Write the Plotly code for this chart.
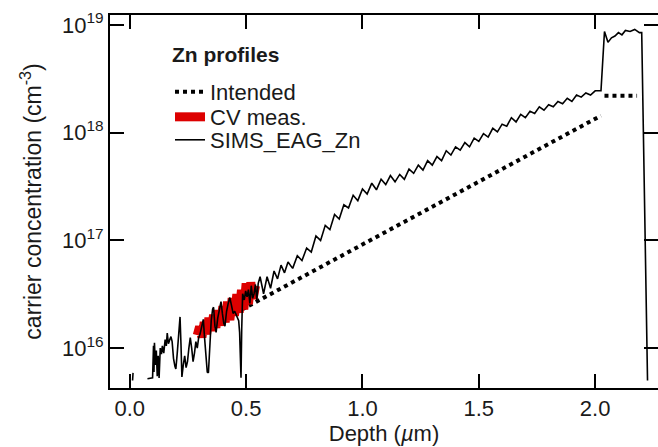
import plotly.graph_objects as go

# ---------------- data ----------------
intended_depth = [0.30, 2.025, None, 2.04, 2.18]
intended_conc = [1.4e16, 1.44e18, None, 2.2e18, 2.2e18]

cv_depth = [0.29, 0.30, 0.31, 0.32, 0.33, 0.34, 0.35, 0.36, 0.37, 0.38, 0.39, 0.40, 0.41,
            0.42, 0.43, 0.44, 0.45, 0.46, 0.47, 0.48, 0.49, 0.50, 0.51, 0.52, 0.53, 0.54]
cv_conc = [1.32e16, 1.58e16, 1.26e16, 1.74e16, 1.35e16, 1.91e16, 1.45e16, 2.04e16, 1.55e16,
           2.24e16, 1.62e16, 2.45e16, 1.74e16, 2.7e16, 1.82e16, 2.9e16, 2.0e16, 3.16e16,
           2.14e16, 3.47e16, 2.29e16, 4.0e16, 2.57e16, 4.07e16, 2.88e16, 3.8e16]

sims_depth = [0.012, 0.014, None,
              0.076, 0.098, 0.102, 0.104, 0.106, 0.110, 0.114, 0.118, 0.122, 0.126, 0.131,
              0.136, 0.140, 0.146, 0.152, 0.157, 0.161, 0.166, 0.172, 0.177, 0.182, 0.188,
              0.194, 0.198, 0.204, 0.210, 0.216, 0.220, 0.224, 0.230, 0.236, 0.242, 0.248,
              0.254, 0.260, 0.266, 0.272, 0.278, 0.284, 0.290, 0.296, 0.302, 0.310, 0.316,
              0.322, 0.328, 0.333, 0.338, 0.344, 0.350, 0.356, 0.360, 0.366, 0.371, 0.378,
              0.385, 0.392, 0.398, 0.404, 0.409, 0.416, 0.423, 0.430, 0.437, 0.444, 0.451,
              0.458, 0.464, 0.468, 0.472, 0.476, 0.478, 0.481, 0.485, 0.492, 0.498, 0.504,
              0.510, 0.516, 0.522, 0.528, 0.534, 0.540, 0.546, 0.552,
              0.560, 0.575, 0.590, 0.605, 0.620, 0.635, 0.650, 0.665, 0.680, 0.700, 0.720,
              0.740, 0.760, 0.780, 0.800, 0.820, 0.840, 0.860, 0.880, 0.900, 0.920, 0.940,
              0.960, 0.980, 1.000, 1.020, 1.040, 1.060, 1.080, 1.100, 1.120, 1.140, 1.160,
              1.180, 1.200, 1.220, 1.240, 1.260, 1.280, 1.300, 1.320, 1.340, 1.360, 1.380,
              1.400, 1.420, 1.440, 1.460, 1.480, 1.500, 1.520, 1.540, 1.560, 1.580, 1.600,
              1.620, 1.640, 1.660, 1.680, 1.700, 1.720, 1.740, 1.760, 1.780, 1.800, 1.820,
              1.840, 1.860, 1.880, 1.900, 1.920, 1.940, 1.960, 1.980, 2.000, 2.025,
              2.040, 2.055, 2.070, 2.085, 2.100, 2.115, 2.130, 2.150, 2.170, 2.190, 2.200,
              2.225]
sims_conc = [5.0e15, 5.9e15, None,
             5.2e15, 5.3e15, 1.05e16, 6.0e15, 1.12e16, 7.0e15, 9.5e15, 5.5e15, 8.5e15, 5.3e15,
             1.0e16, 8.8e15, 1.05e16, 9.0e15, 1.2e16, 1.05e16, 1.38e16, 1.1e16, 1.2e16,
             1.28e16, 1.15e16, 8.0e15, 6.8e15, 6.4e15, 9.0e15, 1.4e16, 1.95e16, 1.1e16,
             5.4e15, 7.0e15, 8.5e15, 6.6e15, 7.5e15, 1.0e16, 1.25e16, 1.0e16, 7.5e15, 9.0e15,
             1.15e16, 1.0e16, 1.25e16, 1.35e16, 1.6e16, 1.85e16, 1.2e16, 8.0e15, 6.0e15,
             5.9e15, 1.1e16, 1.8e16, 2.3e16, 2.4e16, 1.6e16, 1.4e16, 1.9e16, 2.3e16, 2.7e16,
             2.1e16, 1.7e16, 1.6e16, 2.2e16, 2.6e16, 2.95e16, 2.5e16, 2.1e16, 2.2e16, 2.0e16,
             1.9e16, 1.8e16, 1.4e16, 5.8e15, 5.3e15, 1.5e16, 3.2e16, 2.8e16, 3.4e16, 3.0e16,
             3.5e16, 2.6e16, 3.8e16, 2.9e16, 3.2e16, 3.9e16, 2.8e16, 4.0e16,
             4.6e16, 3.2e16, 4.6e16, 3.6e16, 5.2e16, 4.4e16, 5.9e16, 5.0e16, 6.3e16, 5.5e16,
             7.2e16, 6.5e16, 8.5e16, 7.8e16, 1.1e17, 1.0e17, 1.38e17, 1.26e17, 1.74e17,
             1.58e17, 2.14e17, 2.0e17, 2.63e17, 2.34e17, 3.0e17, 2.7e17, 3.4e17, 2.95e17,
             3.7e17, 3.3e17, 4.0e17, 3.5e17, 4.1e17, 3.7e17, 4.6e17, 4.2e17, 5.0e17, 4.5e17,
             5.5e17, 5.0e17, 6.0e17, 5.5e17, 6.8e17, 6.2e17, 7.4e17, 6.9e17, 8.1e17, 7.4e17,
             8.9e17, 8.3e17, 9.8e17, 9.1e17, 1.1e18, 1.02e18, 1.2e18, 1.15e18, 1.38e18,
             1.26e18, 1.48e18, 1.38e18, 1.58e18, 1.51e18, 1.74e18, 1.62e18, 1.82e18, 1.74e18,
             1.95e18, 1.86e18, 2.09e18, 1.95e18, 2.24e18, 2.14e18, 2.34e18, 2.24e18, 2.45e18,
             2.45e18,
             8.7e18, 6.9e18, 7.6e18, 7.9e18, 8.5e18, 8.1e18, 8.9e18, 8.7e18, 9.1e18, 8.5e18,
             8.5e18, 5.0e15]

x_ticks = [0.0, 0.5, 1.0, 1.5, 2.0]
y_ticks = [1e16, 1e17, 1e18, 1e19]
y_ticktext = ["10<sup>16</sup>", "10<sup>17</sup>", "10<sup>18</sup>", "10<sup>19</sup>"]
y_range_log = [15.63, 19.093]

FONT = "Liberation Sans, Arial, Helvetica, sans-serif"
TXT = "#1a1a1a"

fig = go.Figure()
fig.add_trace(go.Scatter(x=intended_depth, y=intended_conc, mode="lines", name="Intended",
                         legend="legend",
                         line=dict(color="black", width=4, dash="4px,4px")))
fig.add_trace(go.Scatter(x=cv_depth, y=cv_conc, mode="lines", name="CV meas.",
                         legend="legend2",
                         line=dict(color="#dd0000", width=9)))
fig.add_trace(go.Scatter(x=sims_depth, y=sims_conc, mode="lines", name="SIMS_EAG_Zn",
                         legend="legend3",
                         line=dict(color="black", width=1.6)))

leg_common = dict(x=0.1095, xanchor="left", yanchor="middle", bgcolor="rgba(0,0,0,0)",
                  font=dict(size=22, family=FONT, color=TXT), itemwidth=30)

fig.update_layout(
    width=658, height=447,
    margin=dict(l=110, r=0, t=15, b=59),
    paper_bgcolor="white", plot_bgcolor="white",
    font=dict(family=FONT, color=TXT, size=20),
    showlegend=True,
    legend=dict(y=0.7936, **leg_common),
    legend2=dict(y=0.7265, **leg_common),
    legend3=dict(y=0.6649, **leg_common),
    annotations=[dict(text="<b>Zn profiles</b>", xref="paper", yref="paper",
                      x=0.1095, y=0.8928, xanchor="left", yanchor="middle",
                      showarrow=False, font=dict(size=21, family=FONT, color=TXT))],
)
fig.update_xaxes(
    range=[-0.085, 2.27], tickvals=x_ticks, tickformat=".1f",
    ticks="inside", ticklen=14, tickwidth=1.5, tickcolor="black",
    showline=True, linewidth=2, linecolor="black", mirror="ticks",
    showgrid=False, zeroline=False, tickfont=dict(size=22),
    title=dict(text="Depth (<i>µ</i>m)", font=dict(size=22), standoff=4),
    automargin=False,
)
fig.update_yaxes(
    type="log", range=y_range_log, tickvals=y_ticks, ticktext=y_ticktext,
    ticks="inside", ticklen=14, tickwidth=1.5, tickcolor="black",
    showline=True, linewidth=2, linecolor="black", mirror="ticks",
    showgrid=False, zeroline=False, tickfont=dict(size=22),
    title=dict(text="carrier concentration (cm<sup>-3</sup>)", font=dict(size=23), standoff=14),
    automargin=False,
)

fig.write_html("out.html")
